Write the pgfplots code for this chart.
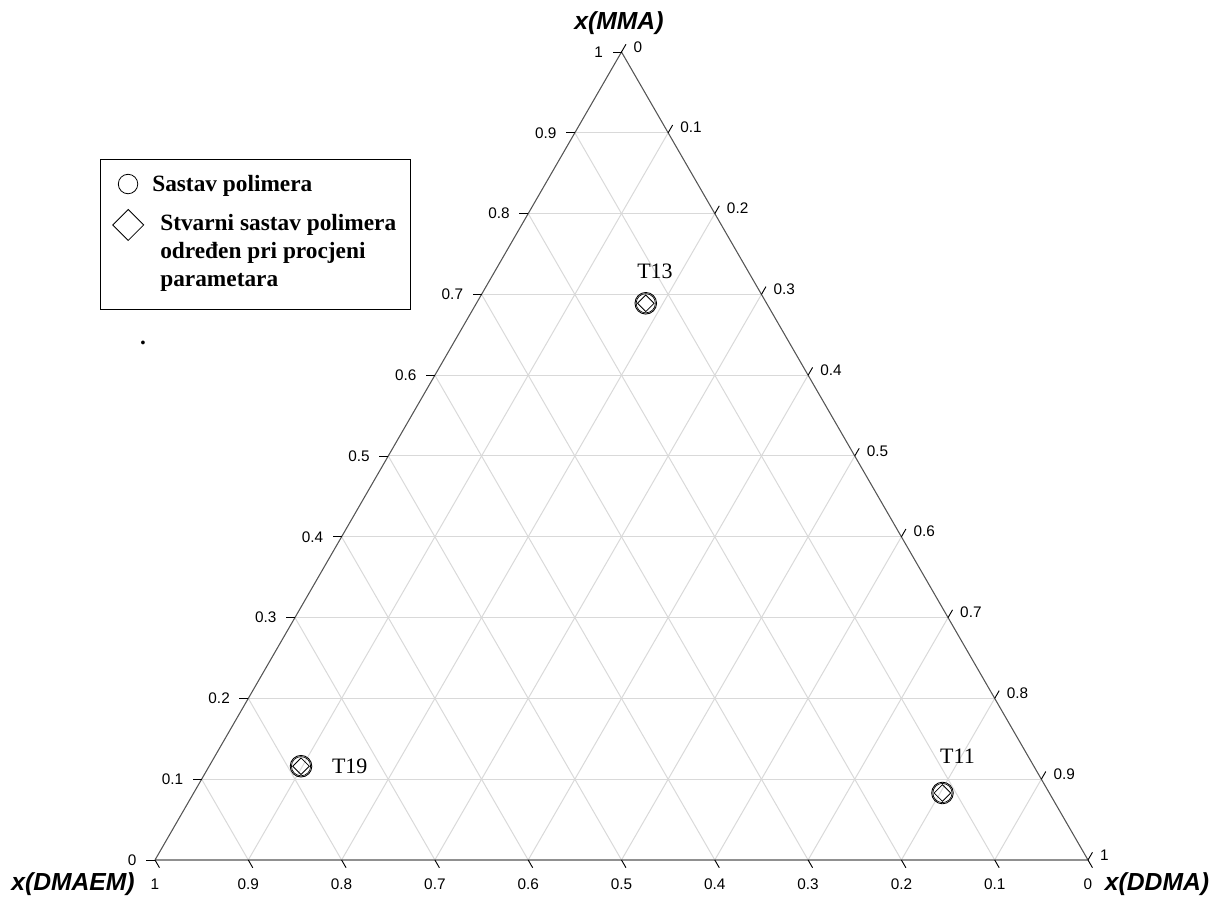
\documentclass[border=0pt]{standalone}
\usepackage{fontspec}
\setmainfont{Liberation Serif}
\setsansfont{Liberation Sans}
\usepackage{pgfplots}
\pgfplotsset{compat=1.18}
\definecolor{edgec}{HTML}{555555}
\definecolor{gridc}{HTML}{D9D9D9}
\newcommand{\tickfont}{\fontsize{11.5}{13}\selectfont\sffamily}
\newcommand{\titlefont}{\fontsize{18.5}{21}\selectfont\sffamily\bfseries\itshape}
\newcommand{\legfont}{\fontsize{17.5}{20}\selectfont\rmfamily\bfseries}
\newcommand{\ptfont}{\fontsize{16.5}{19}\selectfont\rmfamily}
\begin{document}
\begin{tikzpicture}
\begin{axis}[
  scale only axis, width=908.25pt, height=674.25pt,
  xmin=-0.16613, xmax=1.13183, ymin=-0.04180, ymax=0.92176,
  hide axis, clip=false, unbounded coords=jump,
]
% ---- grid: constant MMA (horizontal)
\addplot[gridc, line width=0.75pt] coordinates {(0.05,0.086603)(0.95,0.086603)};
\addplot[gridc, line width=0.75pt] coordinates {(0.10,0.173205)(0.90,0.173205)};
\addplot[gridc, line width=0.75pt] coordinates {(0.15,0.259808)(0.85,0.259808)};
\addplot[gridc, line width=0.75pt] coordinates {(0.20,0.346410)(0.80,0.346410)};
\addplot[gridc, line width=0.75pt] coordinates {(0.25,0.433013)(0.75,0.433013)};
\addplot[gridc, line width=0.75pt] coordinates {(0.30,0.519615)(0.70,0.519615)};
\addplot[gridc, line width=0.75pt] coordinates {(0.35,0.606218)(0.65,0.606218)};
\addplot[gridc, line width=0.75pt] coordinates {(0.40,0.692820)(0.60,0.692820)};
\addplot[gridc, line width=0.75pt] coordinates {(0.45,0.779423)(0.55,0.779423)};
% ---- grid: constant DDMA
\addplot[gridc, line width=0.75pt] coordinates {(0.1,0)(0.55,0.779423)};
\addplot[gridc, line width=0.75pt] coordinates {(0.2,0)(0.60,0.692820)};
\addplot[gridc, line width=0.75pt] coordinates {(0.3,0)(0.65,0.606218)};
\addplot[gridc, line width=0.75pt] coordinates {(0.4,0)(0.70,0.519615)};
\addplot[gridc, line width=0.75pt] coordinates {(0.5,0)(0.75,0.433013)};
\addplot[gridc, line width=0.75pt] coordinates {(0.6,0)(0.80,0.346410)};
\addplot[gridc, line width=0.75pt] coordinates {(0.7,0)(0.85,0.259808)};
\addplot[gridc, line width=0.75pt] coordinates {(0.8,0)(0.90,0.173205)};
\addplot[gridc, line width=0.75pt] coordinates {(0.9,0)(0.95,0.086603)};
% ---- grid: constant DMAEM
\addplot[gridc, line width=0.75pt] coordinates {(0.1,0)(0.05,0.086603)};
\addplot[gridc, line width=0.75pt] coordinates {(0.2,0)(0.10,0.173205)};
\addplot[gridc, line width=0.75pt] coordinates {(0.3,0)(0.15,0.259808)};
\addplot[gridc, line width=0.75pt] coordinates {(0.4,0)(0.20,0.346410)};
\addplot[gridc, line width=0.75pt] coordinates {(0.5,0)(0.25,0.433013)};
\addplot[gridc, line width=0.75pt] coordinates {(0.6,0)(0.30,0.519615)};
\addplot[gridc, line width=0.75pt] coordinates {(0.7,0)(0.35,0.606218)};
\addplot[gridc, line width=0.75pt] coordinates {(0.8,0)(0.40,0.692820)};
\addplot[gridc, line width=0.75pt] coordinates {(0.9,0)(0.45,0.779423)};
% ---- triangle
\addplot[edgec, line width=0.8pt] coordinates {(0,0)(1,0)(0.5,0.866025)(0,0)};
% ---- ticks
\addplot[black, line width=0.7pt] coordinates {
 (0,0)(-0.0096,0) (nan,nan)
 (0.05,0.086603)(0.0404,0.086603) (nan,nan)
 (0.10,0.173205)(0.0904,0.173205) (nan,nan)
 (0.15,0.259808)(0.1404,0.259808) (nan,nan)
 (0.20,0.346410)(0.1904,0.346410) (nan,nan)
 (0.25,0.433013)(0.2404,0.433013) (nan,nan)
 (0.30,0.519615)(0.2904,0.519615) (nan,nan)
 (0.35,0.606218)(0.3404,0.606218) (nan,nan)
 (0.40,0.692820)(0.3904,0.692820) (nan,nan)
 (0.45,0.779423)(0.4404,0.779423) (nan,nan)
 (0.50,0.866025)(0.4904,0.866025)};
\addplot[black, line width=0.7pt] coordinates {
 (0.50,0.866025)(0.5048,0.874325) (nan,nan)
 (0.55,0.779423)(0.5548,0.787723) (nan,nan)
 (0.60,0.692820)(0.6048,0.701120) (nan,nan)
 (0.65,0.606218)(0.6548,0.614518) (nan,nan)
 (0.70,0.519615)(0.7048,0.527915) (nan,nan)
 (0.75,0.433013)(0.7548,0.441313) (nan,nan)
 (0.80,0.346410)(0.8048,0.354710) (nan,nan)
 (0.85,0.259808)(0.8548,0.268108) (nan,nan)
 (0.90,0.173205)(0.9048,0.181505) (nan,nan)
 (0.95,0.086603)(0.9548,0.094903) (nan,nan)
 (1,0)(1.0048,0.0083)};
\addplot[black, line width=0.7pt] coordinates {
 (0,0)(0.0048,-0.0083) (nan,nan)
 (0.1,0)(0.1048,-0.0083) (nan,nan)
 (0.2,0)(0.2048,-0.0083) (nan,nan)
 (0.3,0)(0.3048,-0.0083) (nan,nan)
 (0.4,0)(0.4048,-0.0083) (nan,nan)
 (0.5,0)(0.5048,-0.0083) (nan,nan)
 (0.6,0)(0.6048,-0.0083) (nan,nan)
 (0.7,0)(0.7048,-0.0083) (nan,nan)
 (0.8,0)(0.8048,-0.0083) (nan,nan)
 (0.9,0)(0.9048,-0.0083) (nan,nan)
 (1,0)(1.0048,-0.0083)};
% ---- tick labels, left (MMA)
\node[anchor=east, font=\tickfont] at (axis cs:-0.0148,0) {0};
\node[anchor=east, font=\tickfont] at (axis cs:0.0352,0.086603) {0.1};
\node[anchor=east, font=\tickfont] at (axis cs:0.0852,0.173205) {0.2};
\node[anchor=east, font=\tickfont] at (axis cs:0.1352,0.259808) {0.3};
\node[anchor=east, font=\tickfont] at (axis cs:0.1852,0.346410) {0.4};
\node[anchor=east, font=\tickfont] at (axis cs:0.2352,0.433013) {0.5};
\node[anchor=east, font=\tickfont] at (axis cs:0.2852,0.519615) {0.6};
\node[anchor=east, font=\tickfont] at (axis cs:0.3352,0.606218) {0.7};
\node[anchor=east, font=\tickfont] at (axis cs:0.3852,0.692820) {0.8};
\node[anchor=east, font=\tickfont] at (axis cs:0.4352,0.779423) {0.9};
\node[anchor=east, font=\tickfont] at (axis cs:0.4852,0.866025) {1};
% ---- tick labels, right (DDMA)
\node[anchor=west, font=\tickfont] at (axis cs:0.5080,0.871525) {0};
\node[anchor=west, font=\tickfont] at (axis cs:0.5580,0.784923) {0.1};
\node[anchor=west, font=\tickfont] at (axis cs:0.6080,0.698320) {0.2};
\node[anchor=west, font=\tickfont] at (axis cs:0.6580,0.611718) {0.3};
\node[anchor=west, font=\tickfont] at (axis cs:0.7080,0.525115) {0.4};
\node[anchor=west, font=\tickfont] at (axis cs:0.7580,0.438513) {0.5};
\node[anchor=west, font=\tickfont] at (axis cs:0.8080,0.351910) {0.6};
\node[anchor=west, font=\tickfont] at (axis cs:0.8580,0.265308) {0.7};
\node[anchor=west, font=\tickfont] at (axis cs:0.9080,0.178705) {0.8};
\node[anchor=west, font=\tickfont] at (axis cs:0.9580,0.092103) {0.9};
\node[anchor=west, font=\tickfont] at (axis cs:1.0080,0.0055) {1};
% ---- tick labels, bottom (DMAEM)
\node[font=\tickfont] at (axis cs:0.0,-0.0257) {1};
\node[font=\tickfont] at (axis cs:0.1,-0.0257) {0.9};
\node[font=\tickfont] at (axis cs:0.2,-0.0257) {0.8};
\node[font=\tickfont] at (axis cs:0.3,-0.0257) {0.7};
\node[font=\tickfont] at (axis cs:0.4,-0.0257) {0.6};
\node[font=\tickfont] at (axis cs:0.5,-0.0257) {0.5};
\node[font=\tickfont] at (axis cs:0.6,-0.0257) {0.4};
\node[font=\tickfont] at (axis cs:0.7,-0.0257) {0.3};
\node[font=\tickfont] at (axis cs:0.8,-0.0257) {0.2};
\node[font=\tickfont] at (axis cs:0.9,-0.0257) {0.1};
\node[font=\tickfont] at (axis cs:1.0,-0.0257) {0};
% ---- axis titles
\node[font=\titlefont] at (axis cs:0.4973,0.8965) {x(MMA)};
\node[font=\titlefont] at (axis cs:-0.0879,-0.0257) {x(DMAEM)};
\node[font=\titlefont] at (axis cs:1.0740,-0.0257) {x(DDMA)};
% ---- data (Cartesian positions of ternary compositions)
% T13: MMA 0.689, DDMA 0.182; T19: MMA 0.116, DDMA 0.098; T11: MMA 0.083, DDMA 0.803
\addplot[only marks, mark=o, mark size=8.1pt, mark options={line width=0.65pt, black}] coordinates {(0.5260,0.5967) (0.1565,0.1005) (0.8440,0.0718)};
\addplot[only marks, mark=o, mark size=7.2pt, mark options={line width=0.5pt, black}] coordinates {(0.5260,0.5967) (0.1565,0.1005) (0.8440,0.0718)};
\addplot[only marks, mark=square, mark size=4.4pt, mark options={rotate=45, line width=0.6pt, black}] coordinates {(0.5260,0.5967) (0.1565,0.1005) (0.8440,0.0718)};
\node[font=\ptfont] at (axis cs:0.5359,0.6313) {T13};
\node[font=\ptfont] at (axis cs:0.2087,0.1000) {T19};
\node[font=\ptfont] at (axis cs:0.8601,0.1107) {T11};
% ---- legend
\draw[black, line width=0.75pt] (axis cs:-0.05895,0.75027) rectangle (axis cs:0.27331,0.58950);
\addplot[only marks, mark=o, mark size=7.3pt, mark options={line width=0.6pt, black}] coordinates {(-0.0289,0.7245)};
\addplot[only marks, mark=square, mark size=8.2pt, mark options={rotate=45, line width=0.6pt, black}] coordinates {(-0.0287,0.6806)};
\node[anchor=base west, font=\legfont, inner sep=0pt] at (axis cs:-0.0032,0.7163) {Sastav polimera};
\node[anchor=base west, font=\legfont, inner sep=0pt] at (axis cs:0.0054,0.6742) {Stvarni sastav polimera};
\node[anchor=base west, font=\legfont, inner sep=0pt] at (axis cs:0.0054,0.6447) {određen pri procjeni};
\node[anchor=base west, font=\legfont, inner sep=0pt] at (axis cs:0.0054,0.6152) {parametara};
\node[anchor=base, font=\legfont, inner sep=0pt] at (axis cs:-0.0129,0.5520) {.};
\end{axis}
\pgfresetboundingbox
\path[use as bounding box] (current axis.south west) rectangle (current axis.north east);
\end{tikzpicture}
\end{document}
